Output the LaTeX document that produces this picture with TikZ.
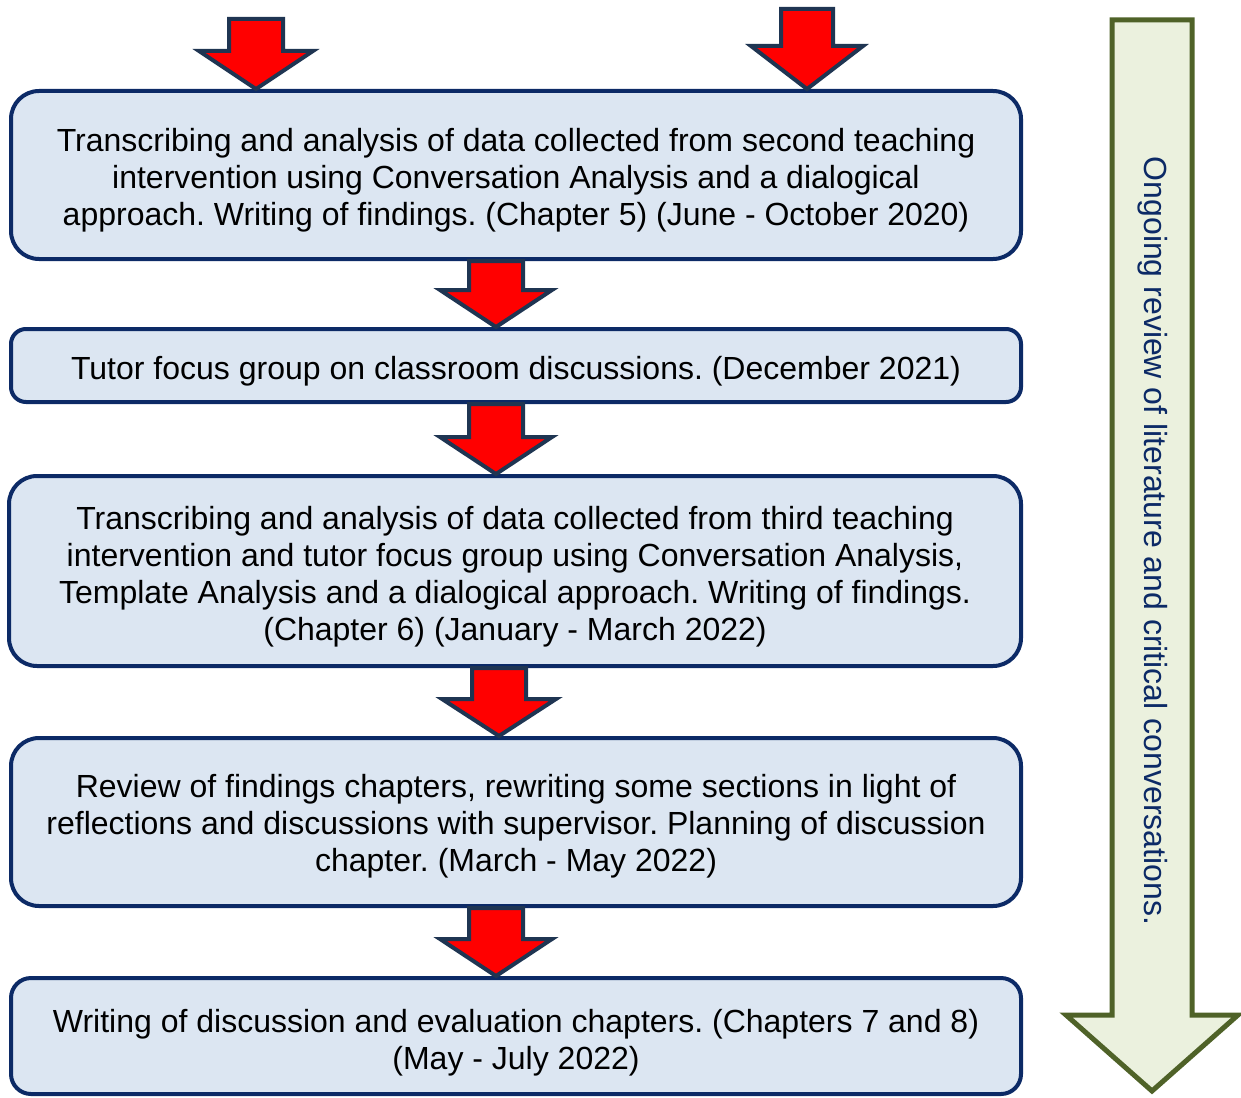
\documentclass[tikz,border=0pt]{standalone}
\usepackage{fontspec}
\setmainfont{Liberation Sans}
\frenchspacing
\usetikzlibrary{calc}
\definecolor{boxfill}{HTML}{DCE6F2}
\definecolor{boxline}{HTML}{0C2A66}
\definecolor{arrline}{HTML}{1F3552}
\definecolor{arrfill}{HTML}{FF0000}
\definecolor{greenfill}{HTML}{EBF1DE}
\definecolor{greenline}{HTML}{4F6228}
\definecolor{greentext}{HTML}{0C2A66}
\tikzset{
  stagebox/.style={draw=boxline, fill=boxfill, line width=4pt, rounded corners=28pt,
    minimum width=1010pt, inner sep=0pt},
  stagetext/.style={align=center, inner sep=0pt, font=\fontsize{32}{37}\selectfont},
  redarr/.style={draw=arrline, fill=arrfill, line width=4pt, line join=miter},
  reviewarr/.style={draw=greenline, fill=greenfill, line width=5pt, line join=miter},
}
% block arrow from a top-centre coordinate (#1) down to a tip (#2);
% #3 half shaft width, #4 half head width, #5 head length
\newcommand\blockarrow[5]{%
  \draw[redarr] ($(#1)+(-#3,0)$) -- ($(#1)+(#3,0)$) -- ($(#2)+(#3,-#5)$)
    -- ($(#2)+(#4,-#5)$) -- (#2) -- ($(#2)+(-#4,-#5)$) -- ($(#2)+(-#3,-#5)$) -- cycle;}
\begin{document}
\begin{tikzpicture}[x=1pt,y=-1pt]
\useasboundingbox (0,0) rectangle (1241,1097);

% stages
\node[stagebox, minimum height=168pt] (s1) at (516,175) {};
\node[stagetext] (t1) at ($(s1.center)+(0,5)$)
  {Transcribing and analysis of data collected from second teaching\\
   intervention using Conversation Analysis and a dialogical\\
   approach. Writing of findings. (Chapter 5) (June - October 2020)};
\node[stagebox, minimum height=73pt, rounded corners=15pt] (s2) at (516,365.5) {};
\node[stagetext] (t2) at ($(s2.center)+(0,6)$)
  {Tutor focus group on classroom discussions. (December 2021)};
\node[stagebox, minimum height=190pt, minimum width=1012pt] (s3) at (515,571) {};
\node[stagetext] (t3) at ($(s3.center)+(0,5.5)$)
  {Transcribing and analysis of data collected from third teaching\\
   intervention and tutor focus group using Conversation Analysis,\\
   Template Analysis and a dialogical approach. Writing of findings.\\
   (Chapter 6) (January - March 2022)};
\node[stagebox, minimum height=168pt] (s4) at (516,822) {};
\node[stagetext] (t4) at ($(s4.center)+(0,4.5)$)
  {Review of findings chapters, rewriting some sections in light of\\
   reflections and discussions with supervisor. Planning of discussion\\
   chapter. (March - May 2022)};
\node[stagebox, minimum height=116pt, rounded corners=20pt] (s5) at (516,1036) {};
\node[stagetext] (t5) at ($(s5.center)+(0,6.5)$)
  {Writing of discussion and evaluation chapters. (Chapters 7 and 8)\\
   (May - July 2022)};

% incoming arrows
\coordinate (inA) at (256,19);
\coordinate (inB) at (807,9);
\blockarrow{inA}{s1.north -| inA}{27}{57}{38}
\blockarrow{inB}{s1.north -| inB}{26}{56}{43}

% arrows between stages
\coordinate (x12) at (496,0);
\coordinate (x34) at (499,0);
\blockarrow{s1.south -| x12}{s2.north -| x12}{27}{56}{37}
\blockarrow{s2.south -| x12}{s3.north -| x12}{27}{56}{37}
\blockarrow{s3.south -| x34}{s4.north -| x34}{27}{57}{37}
\blockarrow{s4.south -| x12}{s5.north -| x12}{27}{56}{37}

% ongoing review arrow
\draw[reviewarr] (1112,20) -- (1192,20) -- (1192,1015) -- (1238,1015)
  -- (1152,1091) -- (1066,1015) -- (1112,1015) -- cycle;
\node[rotate=-90, text=greentext, font=\fontsize{32}{37}\selectfont, inner sep=0pt]
  (review) at (1153,541) {Ongoing review of literature and critical conversations.};
\end{tikzpicture}
\end{document}
